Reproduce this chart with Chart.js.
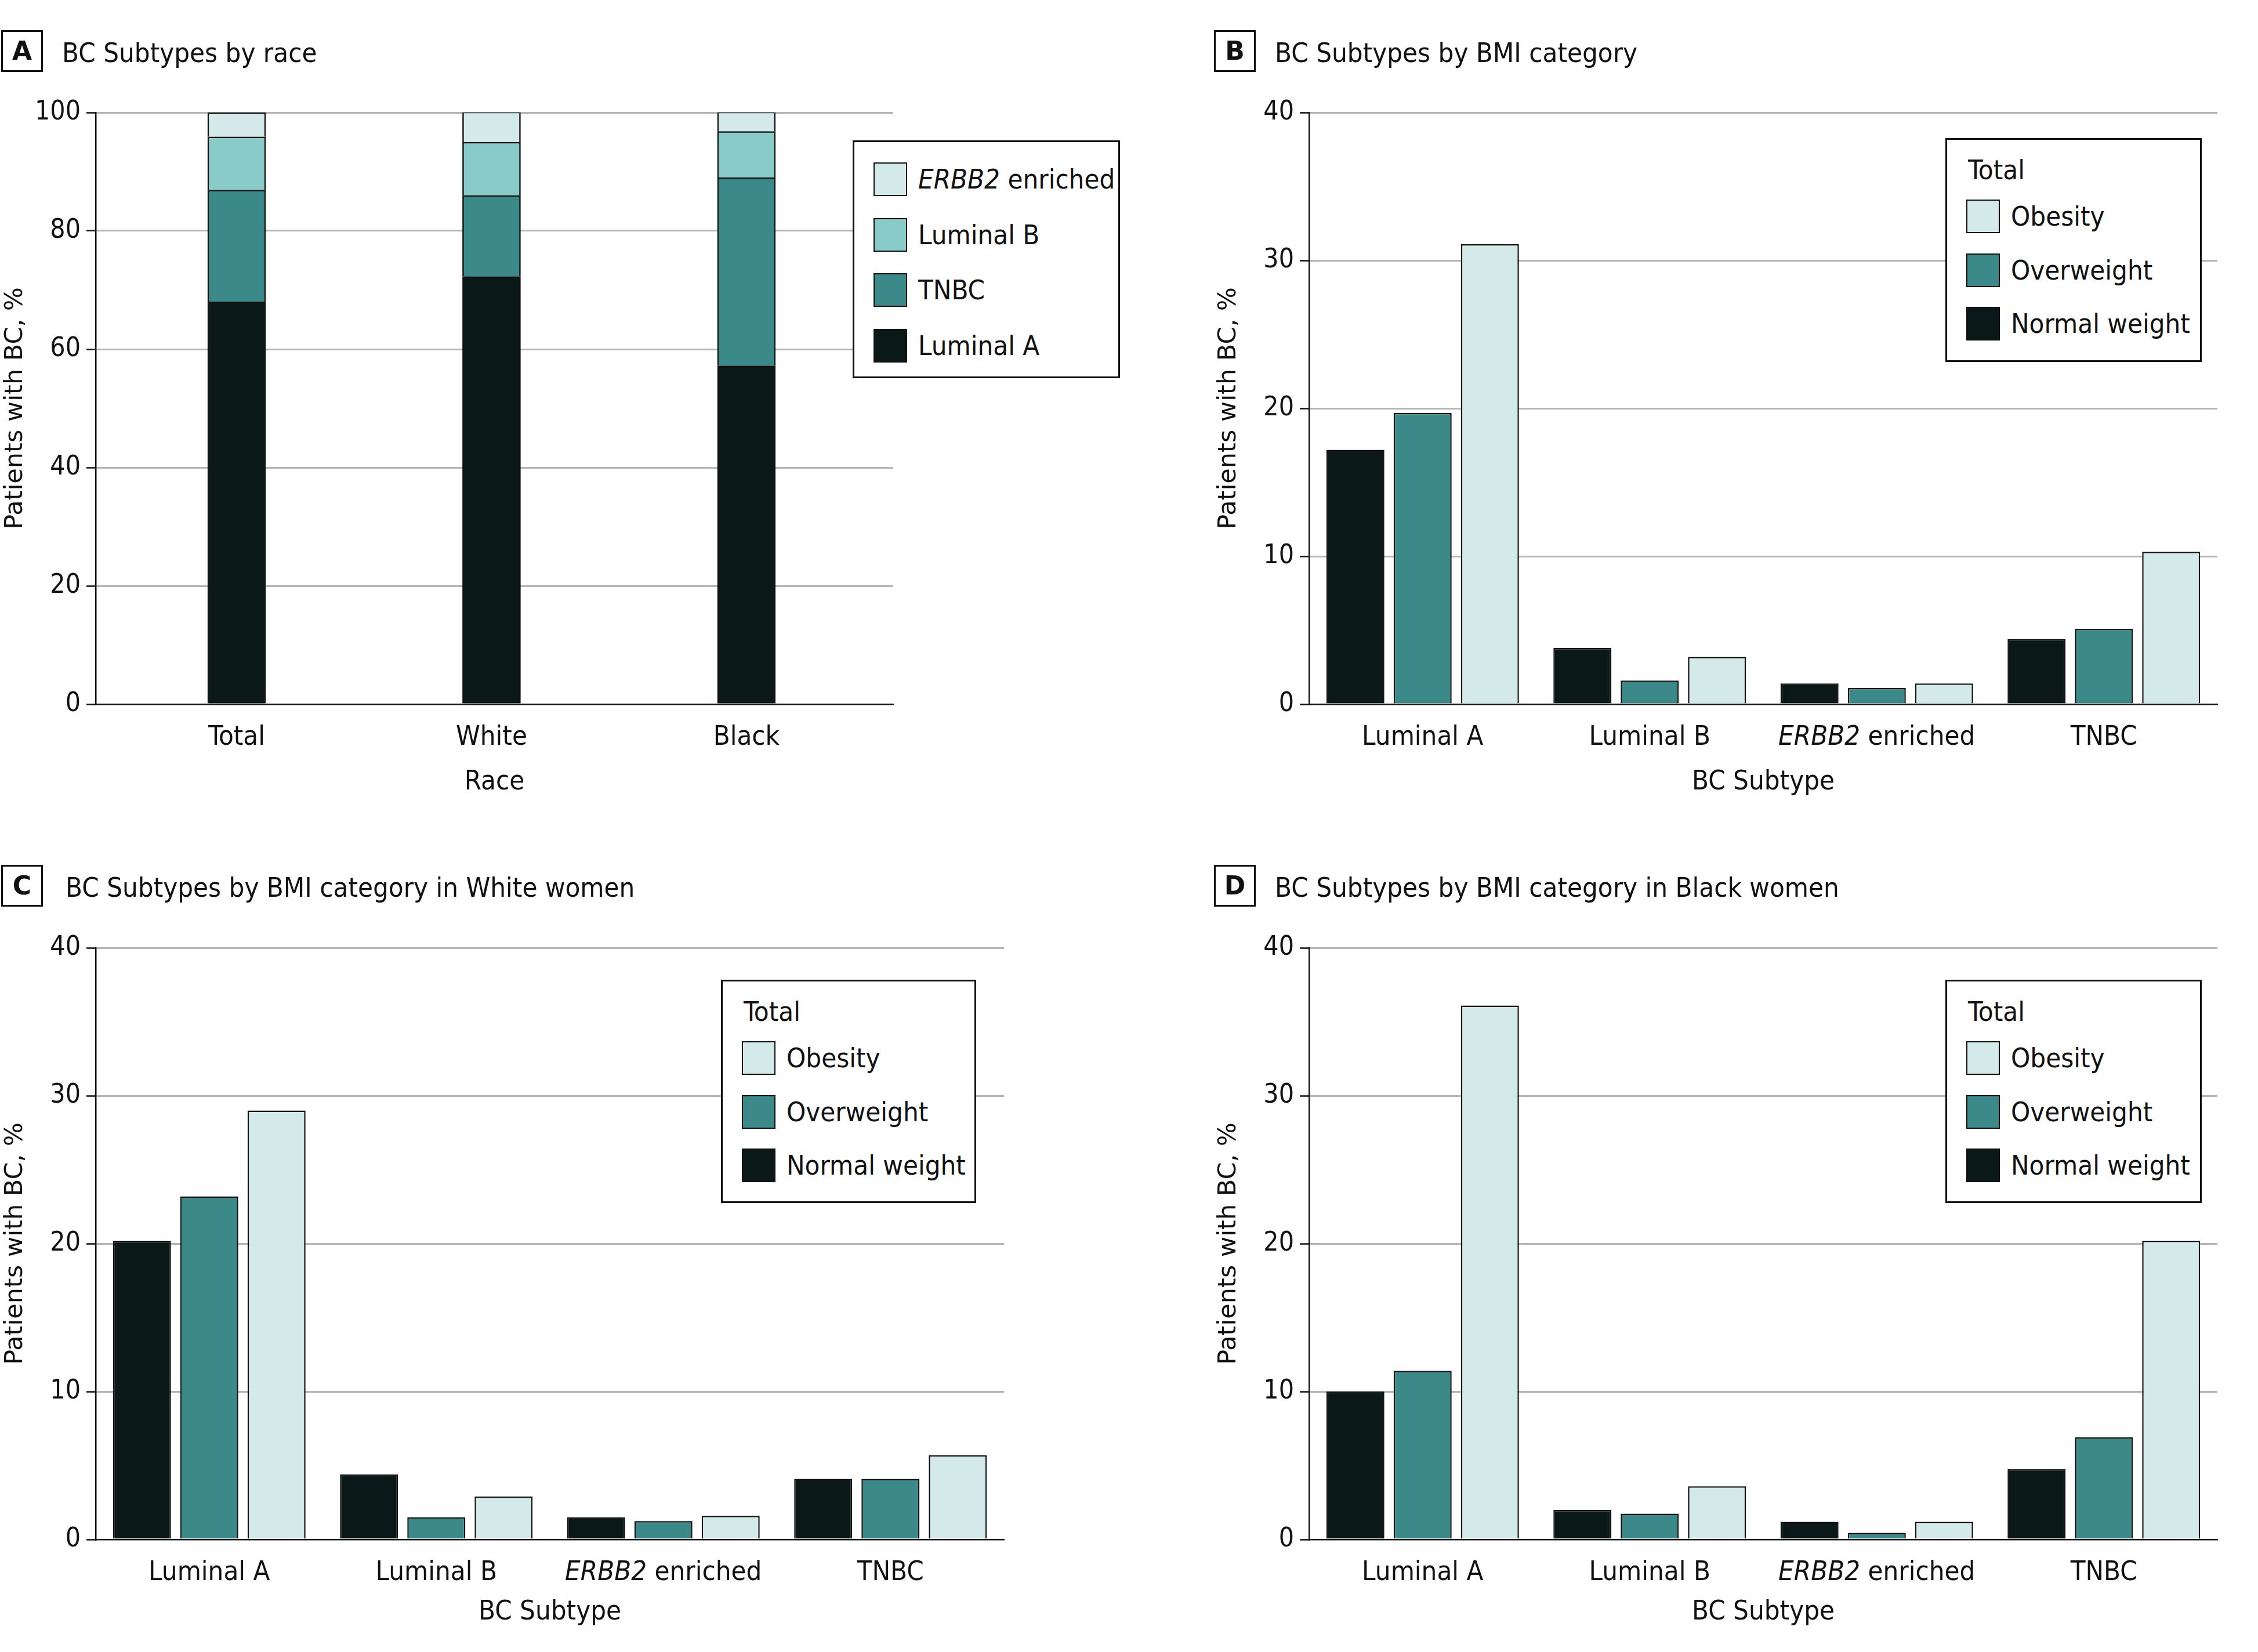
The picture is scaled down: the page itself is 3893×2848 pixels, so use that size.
<!DOCTYPE html>
<html>
<head>
<meta charset="utf-8">
<title>BC subtypes by race and BMI category</title>
<script src="https://cdn.jsdelivr.net/npm/chart.js@4.4.0/dist/chart.umd.min.js"></script>
<style>
  html, body { margin: 0; padding: 0; background: #fff; }
  #page {
    position: relative; width: 3893px; height: 2848px; overflow: hidden;
    font-family: 'DejaVu Sans Condensed', 'Liberation Sans Narrow', sans-serif; color: #111;
  }
  canvas { position: absolute; }
  .tag {
    position: absolute; box-sizing: border-box; width: 72px; height: 72px;
    border: 3px solid #111; text-align: center; line-height: 66px;
    font-family: 'DejaVu Sans', sans-serif; font-weight: bold; font-size: 44px;
  }
  .title { position: absolute; font-size: 47px; line-height: 47px; white-space: nowrap; }
  .legend { position: absolute; box-sizing: border-box; border: 3px solid #111; background: #fff; }
  .legend .row, .legend .head {
    position: absolute; height: 58px; line-height: 58px; font-size: 47px; white-space: nowrap;
  }
  .legend .sw { position: absolute; box-sizing: border-box; width: 58px; height: 58px; border: 2px solid #111; }
</style>
</head>
<body>
<div id="page">
  <canvas id="chartA" width="1560" height="1420" style="left:0;top:0"></canvas>
  <canvas id="chartB" width="1751" height="1420" style="left:2092px;top:0"></canvas>
  <canvas id="chartC" width="1751" height="1428" style="left:0;top:1420px"></canvas>
  <canvas id="chartD" width="1751" height="1428" style="left:2092px;top:1420px"></canvas>

  <div class="tag" style="left:2px;top:52px">A</div>
  <div class="title" style="left:107px;top:67px">BC Subtypes by race</div>
  <div class="tag" style="left:2093px;top:52px">B</div>
  <div class="title" style="left:2198px;top:67px">BC Subtypes by BMI category</div>
  <div class="tag" style="left:2px;top:1491px">C</div>
  <div class="title" style="left:113px;top:1506px">BC Subtypes by BMI category in White women</div>
  <div class="tag" style="left:2093px;top:1491px">D</div>
  <div class="title" style="left:2198px;top:1506px">BC Subtypes by BMI category in Black women</div>

  <div class="legend" id="legA" style="left:1470px;top:242px;width:461px;height:410px"></div>
  <div class="legend" id="legB" style="left:3354px;top:238px;width:442px;height:386px"></div>
  <div class="legend" id="legC" style="left:1243px;top:1689px;width:440px;height:385px"></div>
  <div class="legend" id="legD" style="left:3354px;top:1689px;width:442px;height:385px"></div>
</div>

<script>
// ---- data (percent of patients with BC) ----
const races = ['Total', 'White', 'Black'];
const raceLuminalA = [68.0, 72.3, 57.2];
const raceTNBC = [18.9, 13.7, 31.8];
const raceLuminalB = [9.0, 9.0, 7.8];
const raceERBB2 = [4.1, 5.1, 3.3];

const subtypes = ['Luminal A', 'Luminal B', 'ERBB2 enriched', 'TNBC'];
const totalNormal = [17.2, 3.8, 1.4, 4.4];
const totalOverweight = [19.7, 1.6, 1.1, 5.1];
const totalObesity = [31.1, 3.2, 1.4, 10.3];

const whiteNormal = [20.2, 4.4, 1.5, 4.1];
const whiteOverweight = [23.2, 1.5, 1.25, 4.1];
const whiteObesity = [29.0, 2.9, 1.6, 5.7];

const blackNormal = [10.0, 2.0, 1.2, 4.75];
const blackOverweight = [11.4, 1.75, 0.45, 6.9];
const blackObesity = [36.1, 3.6, 1.2, 20.2];

// ---- look ----
const FONT = "'DejaVu Sans Condensed', 'Liberation Sans Narrow', sans-serif";
const YFONT = "'DejaVu Sans', Verdana, sans-serif";
const INK = '#111111';
const GRID = '#b5b5b5';
const DARK = '#0a1818';
const TEAL = '#3c8989';
const MID = '#88cbc8';
const PALE = '#d4e9ea';

// draws the x category labels so the gene name can be set in italics
const xLabelPlugin = {
  id: 'xLabels',
  afterDraw(chart, args, opts) {
    const ctx = chart.ctx;
    const xs = chart.scales.x;
    const y = chart.chartArea.bottom + opts.offset;
    ctx.save();
    ctx.fillStyle = INK;
    ctx.textBaseline = 'alphabetic';
    ctx.textAlign = 'left';
    opts.labels.forEach((label, i) => {
      const parts = label.startsWith('ERBB2')
        ? [['ERBB2', 'italic '], [label.slice(5), '']]
        : [[label, '']];
      let w = 0;
      parts.forEach(([t, st]) => { ctx.font = st + opts.size + 'px ' + FONT; w += ctx.measureText(t).width; });
      let x = xs.getPixelForValue(i) - w / 2;
      parts.forEach(([t, st]) => {
        ctx.font = st + opts.size + 'px ' + FONT;
        ctx.fillText(t, x, y);
        x += ctx.measureText(t).width;
      });
    });
    ctx.restore();
  }
};

function yAxis(max, step) {
  return {
    min: 0, max: max,
    ticks: { stepSize: step, color: INK, padding: 10, font: { family: FONT, size: 46 } },
    grid: {
      color: (c) => (c.tick && c.tick.value === 0 ? 'transparent' : GRID),
      lineWidth: 3, tickColor: INK, tickLength: 16, tickWidth: 2.5
    },
    border: { display: true, color: INK, width: 2.5 },
    title: {
      display: true, text: 'Patients with BC, %', color: INK,
      font: { family: YFONT, size: 43 }, padding: { top: 1, bottom: 0 }
    },
    afterFit: (s) => { s.width = 165; }
  };
}

function xAxisCommon(title, height, titlePad) {
  return {
    ticks: { display: false },
    grid: { display: false },
    border: { display: true, color: INK, width: 2.5 },
    title: {
      display: true, text: title, color: INK,
      font: { family: FONT, size: 47 }, padding: { top: 0, bottom: titlePad }
    },
    afterFit: (s) => { s.height = height; }
  };
}

function baseOptions(padTop) {
  return {
    responsive: false,
    animation: false,
    devicePixelRatio: 1,
    layout: { padding: { top: padTop, right: 20, left: 0, bottom: 0 } },
    plugins: { legend: { display: false }, tooltip: { enabled: false } }
  };
}

function barSet(label, data, color, extra) {
  return Object.assign({
    label: label, data: data, backgroundColor: color,
    borderColor: INK, borderWidth: 2.5
  }, extra || {});
}

// ---- A: stacked by race ----
const toXY = (arr) => arr.map((v, i) => ({ x: i, y: v }));
const chartA = new Chart(document.getElementById('chartA'), {
  type: 'bar',
  data: {
    datasets: [
      barSet('Luminal A', toXY(raceLuminalA), DARK, { barThickness: 100 }),
      barSet('TNBC', toXY(raceTNBC), TEAL, { barThickness: 100 }),
      barSet('Luminal B', toXY(raceLuminalB), MID, { barThickness: 100 }),
      barSet('ERBB2 enriched', toXY(raceERBB2), PALE, { barThickness: 100 })
    ]
  },
  options: Object.assign(baseOptions(194), {
    scales: {
      x: Object.assign(xAxisCommon('Race', 206, 42.8), {
        type: 'linear', min: -0.553, max: 2.576, offset: false, stacked: true
      }),
      y: Object.assign(yAxis(100, 20), { stacked: true })
    },
    plugins: {
      legend: { display: false }, tooltip: { enabled: false },
      xLabels: { labels: races, offset: 70, size: 47 }
    }
  }),
  plugins: [xLabelPlugin]
});

// ---- B, C, D: grouped by BMI ----
function bmiChart(id, normal, over, obese, padTop, xHeight, titlePad) {
  const opts = { categoryPercentage: 0.889, barPercentage: 0.862 };
  return new Chart(document.getElementById(id), {
    type: 'bar',
    data: {
      labels: subtypes,
      datasets: [
        barSet('Normal weight', normal, DARK, opts),
        barSet('Overweight', over, TEAL, opts),
        barSet('Obesity', obese, PALE, opts)
      ]
    },
    options: Object.assign(baseOptions(padTop), {
      scales: {
        x: xAxisCommon('BC Subtype', xHeight, titlePad),
        y: yAxis(40, 10)
      },
      plugins: {
        legend: { display: false }, tooltip: { enabled: false },
        xLabels: { labels: subtypes, offset: 70, size: 47 }
      }
    }),
    plugins: [xLabelPlugin]
  });
}

const chartB = bmiChart('chartB', totalNormal, totalOverweight, totalObesity, 194, 206, 42.8);
const chartC = bmiChart('chartC', whiteNormal, whiteOverweight, whiteObesity, 214, 194, 39.8);
const chartD = bmiChart('chartD', blackNormal, blackOverweight, blackObesity, 214, 194, 39.8);

// ---- boxed legends (top of the stack first, as in the figure) ----
function buildLegend(elId, chart, header, layout) {
  const el = document.getElementById(elId);
  let html = '';
  if (header) {
    html += '<div class="head" style="left:' + layout.headLeft + 'px;top:' + (layout.headCenter - 29) + 'px">' + header + '</div>';
  }
  const sets = chart.data.datasets.slice().reverse();
  sets.forEach((ds, i) => {
    const c = layout.first + i * layout.step;
    const text = ds.label.startsWith('ERBB2') ? '<i>ERBB2</i>' + ds.label.slice(5) : ds.label;
    html += '<div class="sw" style="left:' + layout.swLeft + 'px;top:' + (c - 29) + 'px;background:' + ds.backgroundColor + '"></div>';
    html += '<div class="row" style="left:' + layout.textLeft + 'px;top:' + (c - 29) + 'px">' + text + '</div>';
  });
  el.innerHTML = html;
}

buildLegend('legA', chartA, null, { first: 64, step: 95.5, swLeft: 33, textLeft: 110 });
const bmiLegend = { headLeft: 36, headCenter: 52, first: 132, step: 92.6, swLeft: 33, textLeft: 110 };
buildLegend('legB', chartB, 'Total', bmiLegend);
buildLegend('legC', chartC, 'Total', bmiLegend);
buildLegend('legD', chartD, 'Total', bmiLegend);
</script>
</body>
</html>
